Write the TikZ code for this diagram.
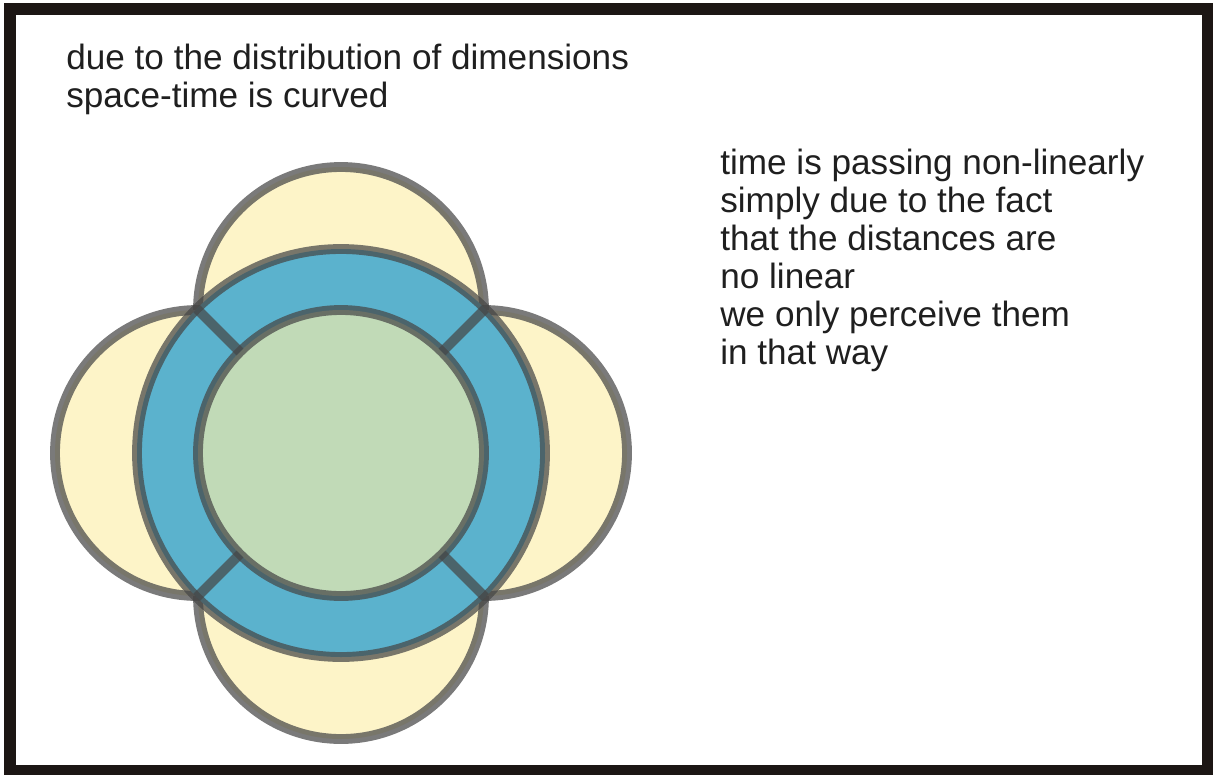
\documentclass[tikz,border=0pt]{standalone}
\usepackage{fontspec}
\setmainfont{Liberation Sans}
\usepackage{tikz}
\usetikzlibrary{calc}
\usepackage{xcolor}
\definecolor{lobefill}{RGB}{253, 244, 200}
\definecolor{ringfill}{RGB}{ 91, 178, 205}
\definecolor{corefill}{RGB}{193, 218, 183}
\definecolor{edgeclr}{RGB}{ 70,  70,  70}
\definecolor{frameclr}{RGB}{ 28,  22,  20}
\tikzset{
  % Chiziqlar
  edge/.style     = {draw=edgeclr, draw opacity=0.72, line width=5.6pt},
  % To'ldirilgan doiralar
  lobe/.style     = {edge, fill=lobefill},
  ringdisc/.style = {edge, fill=ringfill},
  coredisc/.style = {edge, fill=corefill},
  spoke/.style    = {edge, line cap=butt},
  % Matnlar
  lab/.style      = {font=\fontsize{20}{21.6}\selectfont, text=black!88,
                     align=left, inner sep=0pt, anchor=north west},
}
\begin{document}
\begin{tikzpicture}[x=0.02cm, y=-0.02cm]
  \useasboundingbox (0,0) rectangle (1213,774);
  \draw[frameclr, line width=6.8pt] (10,9) rectangle (1208,771);
  \coordinate (C) at (341,453);
  % Sariq doiralar
  \foreach \ang/\nm in {90/top,270/bot,180/lft,0/rgt}
    \coordinate (\nm) at ($(C)+(\ang:143)$);
  \foreach \nm in {top,bot,lft,rgt}
    \path[lobe] (\nm) circle[radius=143];
  % Halqa va markaz
  \path[ringdisc] (C) circle[radius=204];
  \path[coredisc] (C) circle[radius=143];
  \foreach \ang in {45,135,225,315}
    \draw[spoke] ($(C)+(\ang:143)$) -- ($(C)+(\ang:204)$);
  % Etiketlar
  \node[lab] (curved) at (66,44)
    {due to the distribution of dimensions\\space-time is curved};
  \node[lab] (passing) at (720,149)
    {time is passing non-linearly\\simply due to the fact\\that the distances are\\no linear\\we only perceive them\\in that way};
\end{tikzpicture}
\end{document}
